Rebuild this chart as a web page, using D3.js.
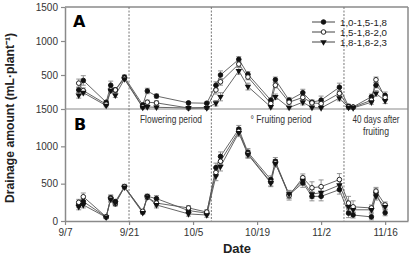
<!DOCTYPE html>
<html>
<head>
<meta charset="utf-8">
<script src="https://cdn.jsdelivr.net/npm/d3@7"></script>
<style>
  html, body { margin: 0; padding: 0; background: #fff; }
  svg { display: block; font-family: "Liberation Sans", Arial, sans-serif; }
</style>
</head>
<body>
<svg id="chart" width="412" height="257"></svg>
<script>
// sampling dates (2000 used as a dummy year)
const dates = ["9/10","9/11","9/16","9/17","9/18","9/20","9/24","9/25","9/27","10/4","10/8","10/10","10/11",
  "10/15","10/17","10/22","10/23","10/26","10/29","10/31","11/2","11/6","11/8","11/9","11/13","11/14","11/16"];
const tickDates = ["9/7","9/21","10/5","10/19","11/2","11/16"];
const periodLines = ["9/21","10/9","11/7"];
const seriesNames = ["1,0-1,5-1,8", "1,5-1,8-2,0", "1,8-1,8-2,3"];

// panel A
const a1 = [280,420,100,350,280,470,60,265,190,90,85,350,500,730,510,130,430,130,240,100,130,320,40,30,180,350,200];
const a2 = [380,270,70,280,280,450,30,100,90,15,20,280,400,660,470,80,350,100,170,90,80,230,30,25,130,430,170];
const a3 = [200,240,50,270,200,440,20,30,25,15,15,85,180,560,330,30,180,20,100,20,15,160,20,15,100,230,120];
const a1Err = [40,70,20,60,30,30,20,40,30,20,20,50,60,40,40,30,40,40,50,30,60,60,30,20,40,40,50];
const a2Err = [60,40,20,40,30,30,20,30,30,10,10,60,50,40,40,30,40,40,30,40,30,40,30,20,30,40,40];
const a3Err = [40,30,20,30,30,30,10,20,20,10,10,40,60,50,50,20,40,20,40,20,10,40,20,10,30,40,40];

// panel B
const b1 = [220,260,55,310,260,460,120,330,300,140,105,715,865,1230,920,555,800,350,510,330,330,420,105,80,55,380,110];
const b2 = [250,325,55,300,230,460,130,320,240,175,120,650,800,1200,900,520,780,340,580,445,460,555,240,190,175,400,215];
const b3 = [190,215,50,290,240,450,110,320,215,95,80,600,730,1180,890,510,770,360,540,360,380,480,190,150,150,330,190];
const b1Err = [40,40,20,40,30,30,20,30,40,30,30,60,60,50,50,50,50,50,60,60,60,60,60,40,40,50,40];
const b2Err = [40,50,20,40,30,30,20,30,40,30,30,50,50,50,50,50,40,60,50,80,90,80,90,80,40,50,40];
const b3Err = [40,40,20,40,30,30,20,30,40,30,30,60,60,50,50,50,50,50,60,60,60,60,60,40,40,50,40];

const parse = d3.timeParse("%Y/%m/%d");
const toDate = s => parse("2000/" + s);

const svg = d3.select("#chart");
const left = 65, right = 408;
const grey = "#8a8a8a";

const x = d3.scaleTime().domain([toDate("9/7"), toDate("11/21")]).range([left, right]);
const yA = d3.scaleLinear().domain([0, 1500]).range([109, 7]);
const yB = d3.scaleLinear().domain([0, 1500]).range([221, 109]);

// frame
svg.append("line").attr("x1", left).attr("x2", right).attr("y1", 7).attr("y2", 7)
  .attr("stroke", grey).attr("stroke-width", 1.5);
svg.append("line").attr("x1", right).attr("x2", right).attr("y1", 7).attr("y2", 221)
  .attr("stroke", grey).attr("stroke-width", 1.5);
svg.append("line").attr("x1", left).attr("x2", right).attr("y1", 109).attr("y2", 109)
  .attr("stroke", grey).attr("stroke-width", 1.2);

// period separators
svg.selectAll(".period").data(periodLines).enter().append("line")
  .attr("x1", d => x(toDate(d))).attr("x2", d => x(toDate(d)))
  .attr("y1", 7).attr("y2", 221)
  .attr("stroke", "#777").attr("stroke-width", 1).attr("stroke-dasharray", "2,1.5");

// axes
function styleAxis(g) {
  g.selectAll(".domain").attr("stroke", grey).attr("stroke-width", 1.5);
  g.selectAll(".tick line").attr("stroke", grey).attr("stroke-width", 1.2);
  g.selectAll(".tick text").attr("fill", "#333").style("font-size", "10px");
}
const fmt = d3.format("d");
svg.append("g").attr("transform", `translate(${left},0)`)
  .call(d3.axisLeft(yA).tickValues([500, 1000, 1500]).tickFormat(fmt).tickSize(4).tickPadding(3).tickSizeOuter(0))
  .call(styleAxis);
svg.append("g").attr("transform", `translate(${left},0)`)
  .call(d3.axisLeft(yB).tickValues([0, 500, 1000, 1500]).tickFormat(fmt).tickSize(4).tickPadding(3).tickSizeOuter(0))
  .call(styleAxis);
svg.append("g").attr("transform", "translate(0,221)")
  .call(d3.axisBottom(x).tickValues(tickDates.map(toDate)).tickFormat(d3.timeFormat("%-m/%-d"))
    .tickSize(4).tickPadding(4).tickSizeOuter(0))
  .call(styleAxis);

// titles
svg.append("text").attr("transform", "translate(14,118) rotate(-90)")
  .attr("text-anchor", "middle").attr("font-weight", "bold").style("font-size", "12.5px").attr("fill", "#222")
  .attr("textLength", 170).attr("lengthAdjust", "spacingAndGlyphs")
  .text("Drainage amount (mL·plant⁻¹)");
svg.append("text").attr("x", 237).attr("y", 253).attr("text-anchor", "middle")
  .attr("font-weight", "bold").style("font-size", "13px").attr("fill", "#222").text("Date");

svg.append("text").attr("x", 73).attr("y", 27).attr("font-weight", "bold")
  .style("font-family", "'DejaVu Sans', sans-serif").style("font-size", "16px").text("A");
svg.append("text").attr("x", 74).attr("y", 130).attr("font-weight", "bold")
  .style("font-family", "'DejaVu Sans', sans-serif").style("font-size", "16px").text("B");

const note = svg.append("g").attr("fill", "#333").style("font-size", "10px").attr("text-anchor", "middle")
  .attr("lengthAdjust", "spacingAndGlyphs");
note.append("text").attr("x", 171).attr("y", 123).attr("textLength", 62).attr("lengthAdjust", "spacingAndGlyphs").text("Flowering period");
note.append("text").attr("x", 281).attr("y", 123).attr("textLength", 61).attr("lengthAdjust", "spacingAndGlyphs").text("° Fruiting period");
note.append("text").attr("x", 376).attr("y", 123).attr("textLength", 47).attr("lengthAdjust", "spacingAndGlyphs").text("40 days after");
note.append("text").attr("x", 376).attr("y", 135).attr("textLength", 26).attr("lengthAdjust", "spacingAndGlyphs").text("fruiting");

// series drawing
const markers = ["filled", "open", "tri"];
function marker(g, kind) {
  if (kind === "tri") {
    g.append("path").attr("d", d3.symbol(d3.symbolTriangle, 18)()).attr("transform", "rotate(180)")
      .attr("fill", "#111");
  } else {
    g.append("circle").attr("r", 2.3).attr("fill", kind === "open" ? "#fff" : "#111")
      .attr("stroke", "#111").attr("stroke-width", 0.9);
  }
}

function drawPanel(y, vals, errs) {
  const line = d3.line().x((d, i) => x(toDate(dates[i]))).y(d => y(d));
  vals.forEach((v, s) => {
    svg.append("path").datum(v).attr("d", line).attr("fill", "none")
      .attr("stroke", "#555").attr("stroke-width", 0.9);
  });
  vals.forEach((v, s) => {
    const eg = svg.append("g").attr("stroke", "#888").attr("stroke-width", 0.9);
    v.forEach((d, i) => {
      const cx = x(toDate(dates[i])), e = errs[s][i];
      const y0 = y(Math.max(0, d - e)), y1 = y(d + e);
      eg.append("line").attr("x1", cx).attr("x2", cx).attr("y1", y0).attr("y2", y1);
      eg.append("line").attr("x1", cx - 2.5).attr("x2", cx + 2.5).attr("y1", y1).attr("y2", y1);
      eg.append("line").attr("x1", cx - 2.5).attr("x2", cx + 2.5).attr("y1", y0).attr("y2", y0);
    });
  });
  vals.forEach((v, s) => {
    v.forEach((d, i) => {
      const g = svg.append("g").attr("transform", `translate(${x(toDate(dates[i]))},${y(d)})`);
      marker(g, markers[s]);
    });
  });
}
drawPanel(yA, [a1, a2, a3], [a1Err, a2Err, a3Err]);
drawPanel(yB, [b1, b2, b3], [b1Err, b2Err, b3Err]);

// legend
const leg = svg.append("g").attr("transform", "translate(312,22)");
seriesNames.forEach((name, i) => {
  const g = leg.append("g").attr("transform", `translate(0,${i * 10})`);
  g.append("line").attr("x1", 0).attr("x2", 23).attr("stroke", "#444").attr("stroke-width", 1);
  const m = g.append("g").attr("transform", "translate(11.5,0)");
  marker(m, markers[i]);
  g.append("text").attr("x", 28).attr("y", 3.5).style("font-size", "9.5px").attr("fill", "#222")
    .attr("textLength", 47).attr("lengthAdjust", "spacingAndGlyphs").text(name);
});
</script>
</body>
</html>
